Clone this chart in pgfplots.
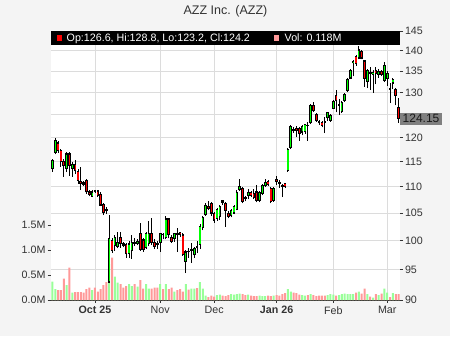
\documentclass[border=0pt]{standalone}
\usepackage{pgfplots}
\usepackage{pgfplotstable}
\pgfplotsset{compat=1.18}
\usepackage{fontspec}
\setmainfont{Liberation Sans}
\definecolor{bg}{HTML}{F4F4F4}
\definecolor{gridc}{HTML}{DCDCDC}
\definecolor{upc}{HTML}{00FF00}
\definecolor{dnc}{HTML}{FF0000}
\definecolor{vup}{HTML}{99FF99}
\definecolor{vdn}{HTML}{FF9999}
\definecolor{txt}{HTML}{333333}
\definecolor{boxc}{HTML}{808080}

\pgfplotstableread{
i O H L C V
0 113.6 115.6 113.0 115.3 0.37
1 116.9 120.0 116.5 119.4 0.22
2 118.9 119.3 116.8 117.3 0.20
3 117.3 117.6 114.0 115.0 0.20
4 115.0 115.5 112.0 114.2 0.43
5 113.6 117.0 112.9 116.6 0.30
6 116.6 117.0 112.2 114.2 0.65
7 113.6 115.0 112.0 114.4 0.15
8 114.4 115.3 112.5 113.2 0.16
9 113.0 113.6 110.6 111.3 0.16
10 111.0 114.0 109.4 110.6 0.16
11 110.8 111.2 110.2 110.5 0.15
12 111.3 111.5 108.6 109.0 0.22
13 109.0 109.3 108.2 108.6 0.25
14 108.2 109.3 108.0 109.0 0.20
15 109.2 109.4 108.8 109.0 0.25
16 109.2 109.4 108.0 108.3 0.17
17 108.6 109.0 106.3 106.5 0.22
18 106.6 106.8 104.6 105.1 0.30
19 105.6 106.2 104.8 105.4 0.36
20 92.9 104.6 92.7 100.3 0.72
21 100.0 100.4 97.8 98.3 0.85
22 99.1 101.0 98.2 100.5 0.47
23 99.0 101.5 98.6 99.7 0.35
24 100.6 101.5 98.7 99.4 0.32
25 99.4 99.8 98.8 99.2 0.25
26 99.3 99.5 97.0 97.7 0.28
27 97.8 99.9 97.0 99.4 0.32
28 98.2 101.0 96.8 99.7 0.28
29 99.7 100.5 99.0 99.5 0.32
30 99.5 100.3 99.2 99.9 0.27
31 101.3 103.2 98.2 98.4 0.40
32 100.1 100.4 98.0 98.4 0.23
33 98.7 101.5 98.5 101.3 0.32
34 99.5 103.5 99.0 101.3 0.23
35 101.3 104.0 99.3 99.7 0.23
36 99.6 100.2 98.5 99.0 0.25
37 99.5 100.0 98.5 99.3 0.25
38 99.7 101.4 98.0 101.2 0.32
39 101.1 101.4 100.2 101.0 0.22
40 100.6 104.5 100.2 103.9 0.32
41 103.9 104.0 100.4 101.0 0.22
42 100.5 101.0 99.6 99.9 0.25
43 100.4 101.4 99.8 101.2 0.17
44 101.3 102.2 98.0 101.0 0.20
45 101.4 101.6 100.6 101.0 0.22
46 101.0 101.3 97.3 97.6 0.17
47 96.4 98.3 94.4 98.0 0.32
48 98.1 98.6 97.0 98.0 0.21
49 98.3 99.6 96.1 98.4 0.23
50 97.5 98.9 97.0 98.6 0.23
51 99.0 100.0 97.8 98.8 0.24
52 99.3 103.0 98.5 102.6 0.36
53 102.3 104.5 101.8 104.2 0.23
54 104.7 106.8 104.5 106.4 0.09
55 106.3 107.3 105.5 105.9 0.06
56 106.8 107.0 104.5 105.0 0.09
57 105.0 105.2 103.2 103.7 0.07
58 104.0 106.0 103.6 105.7 0.10
59 104.4 106.5 103.8 106.2 0.11
60 107.3 107.5 106.5 107.0 0.09
61 106.8 107.0 102.5 105.5 0.08
62 105.0 105.3 104.0 104.4 0.10
63 104.6 105.8 104.2 105.4 0.12
64 105.0 106.5 104.8 106.2 0.11
65 105.7 109.3 105.5 108.9 0.12
66 109.5 111.5 109.2 110.0 0.13
67 109.7 110.0 106.8 107.2 0.12
68 108.0 108.2 107.2 107.7 0.10
69 108.3 109.6 107.6 108.9 0.11
70 108.9 109.2 108.0 108.3 0.09
71 108.7 109.5 107.6 108.0 0.08
72 109.0 110.3 107.0 107.4 0.08
73 107.4 109.2 107.0 108.9 0.09
74 108.7 110.6 108.4 110.3 0.08
75 110.3 111.5 110.0 110.9 0.08
76 111.0 111.3 110.2 110.5 0.09
77 109.6 110.0 106.8 107.1 0.08
78 107.4 109.9 107.1 109.6 0.09
79 111.4 112.2 110.3 111.0 0.10
80 110.9 111.3 109.8 110.6 0.09
81 110.3 110.6 108.0 110.1 0.12
82 110.6 110.8 109.8 110.0 0.14
83 113.3 117.8 113.0 117.5 0.22
84 117.9 122.7 117.6 122.4 0.17
85 121.8 122.2 121.0 121.5 0.15
86 122.0 122.6 120.2 121.6 0.14
87 122.0 122.4 119.4 120.8 0.11
88 121.2 122.8 120.5 122.5 0.10
89 121.3 123.0 120.8 122.8 0.09
90 122.7 123.4 119.4 122.6 0.10
91 123.2 127.4 122.9 127.1 0.12
92 127.1 127.8 125.6 125.9 0.10
93 125.0 125.4 123.4 123.7 0.08
94 123.4 123.8 122.8 123.2 0.09
95 123.3 123.6 122.2 122.6 0.09
96 123.5 124.5 121.0 123.3 0.09
97 124.3 125.6 123.6 125.4 0.10
98 123.7 125.2 123.4 124.9 0.12
99 126.4 128.3 126.2 128.0 0.11
100 129.3 130.6 125.5 128.2 0.09
101 127.1 128.6 124.9 127.3 0.10
102 125.7 128.0 125.4 127.7 0.12
103 128.2 129.8 127.9 129.5 0.13
104 130.4 133.3 130.1 133.0 0.12
105 133.4 135.6 133.2 135.3 0.12
106 137.0 137.8 133.8 137.4 0.12
107 138.5 139.0 136.3 136.8 0.15
108 138.2 141.2 137.9 140.2 0.17
109 139.8 140.3 137.9 138.2 0.13
110 137.5 137.8 131.4 133.3 0.23
111 132.6 135.6 131.0 135.3 0.12
112 134.6 136.0 130.6 134.4 0.07
113 134.2 135.4 130.0 134.8 0.05
114 135.3 136.1 131.9 134.5 0.12
115 134.3 135.5 133.5 135.0 0.10
116 134.9 135.2 133.8 134.3 0.13
117 132.8 137.2 132.4 136.5 0.23
118 133.3 135.0 131.5 134.5 0.15
119 131.0 132.2 127.6 130.8 0.06
120 132.2 133.5 130.8 133.0 0.14
121 130.8 131.0 127.1 129.3 0.12
122 126.6 128.8 123.2 124.2 0.118
}\data

\begin{document}
\begin{tikzpicture}[x=1bp,y=1bp]
\useasboundingbox (0,0) rectangle (450,336);
\fill[bg] (0,0) rectangle (450,336);
\pgfplotsset{base/.style={at={(51bp,36bp)}, anchor=south west, scale only axis,
  width=349bp, height=269bp, xmin=-0.5, xmax=122.5}}

% grid / price ticks axis
\begin{axis}[base, ymode=log, ymin=90, ymax=145,
  axis background/.style={fill=white},
  axis x line*=bottom, axis y line*=right,
  y axis line style={draw=none}, x axis line style={draw=txt, line width=0.8bp},
  xtick={15,38,57,79,99,118},
  xticklabels={\textbf{Oct 25},Nov,Dec,\textbf{Jan 26},Feb,Mar},
  ytick={90,95,100,105,110,115,120,125,130,135,140,145},
  yticklabels={90,95,100,105,110,115,120,{},130,135,140,145},
  grid=major, grid style={gridc, line width=0.9bp},
  tick align=outside, major tick length=3bp,
  tick style={txt, line width=0.8bp},
  ticklabel style={font=\fontsize{10.7bp}{12bp}\selectfont, text=txt},
  yticklabel style={xshift=-1.5bp}]
\end{axis}

% volume axis
\begin{axis}[base, ymin=0, ymax=5.38,
  axis x line=none, axis y line*=left, y axis line style={draw=none},
  ytick={0,0.5,1,1.5}, yticklabels={0.0M,0.5M,1.0M,1.5M},
  tick align=outside, major tick length=3.5bp,
  tick style={txt, line width=0.8bp},
  ticklabel style={font=\fontsize{10.7bp}{12bp}\selectfont, text=txt},
  yticklabel style={xshift=1.5bp}]
\addplot[ybar, bar width=2bp, bar shift=0pt, fill=vup, draw=none]
  table[x=i, y expr={ifthenelse(\thisrow{C}>\thisrow{O},\thisrow{V},0)}] {\data};
\addplot[ybar, bar width=2bp, bar shift=0pt, fill=vdn, draw=none]
  table[x=i, y expr={ifthenelse(\thisrow{C}>\thisrow{O},0,\thisrow{V})}] {\data};
\end{axis}

% candles
\begin{axis}[base, ymode=log, ymin=90, ymax=145, hide axis]
\addplot[draw=none, mark=none, error bars/.cd, y dir=plus, y explicit,
  error mark=none, error bar style={draw=black, line width=0.9bp}]
  table[x=i, y=L, y error expr={\thisrow{H}-\thisrow{L}}] {\data};
\addplot[draw=none, mark=none, error bars/.cd, y dir=plus, y explicit,
  error mark=none, error bar style={draw=black, line width=2.6bp, shorten <=-0.5bp, shorten >=-0.5bp}]
  table[x=i, y expr={min(\thisrow{O},\thisrow{C})}, y error expr={abs(\thisrow{C}-\thisrow{O})}] {\data};
\addplot[draw=none, mark=none, error bars/.cd, y dir=plus, y explicit,
  error mark=none, error bar style={draw=upc, line width=1.2bp, shorten <=0.6bp, shorten >=0.6bp}]
  table[x=i, y expr={ifthenelse(\thisrow{C}-\thisrow{O}>0.35,\thisrow{O},1)},
         y error expr={ifthenelse(\thisrow{C}-\thisrow{O}>0.35,\thisrow{C}-\thisrow{O},0.1)}] {\data};
\addplot[draw=none, mark=none, error bars/.cd, y dir=plus, y explicit,
  error mark=none, error bar style={draw=dnc, line width=1.2bp, shorten <=0.6bp, shorten >=0.6bp}]
  table[x=i, y expr={ifthenelse(\thisrow{O}-\thisrow{C}>0.35,\thisrow{C},1)},
         y error expr={ifthenelse(\thisrow{O}-\thisrow{C}>0.35,\thisrow{O}-\thisrow{C},0.1)}] {\data};
\coordinate (lastp) at (axis cs:122.5,124.15);
\end{axis}

\node[fill=boxc, anchor=west, inner xsep=2.5bp, inner ysep=0bp, minimum height=12bp,
  font=\fontsize{12bp}{12bp}\selectfont, text=black!90] at (lastp) {124.15};

% legend bar and title
\fill[black] (51,291) rectangle (400,305);
\fill[dnc] (57,295.5) rectangle (62,300.7);
\node[anchor=base west, inner sep=0, text=white, font=\fontsize{10.7bp}{12bp}\selectfont] at (66.5,294.3) {Op:126.6, Hi:128.8, Lo:123.2, Cl:124.2};
\fill[vdn] (274,295.5) rectangle (279,300.7);
\node[anchor=base west, inner sep=0, text=white, font=\fontsize{10.7bp}{12bp}\selectfont] at (284.5,294.3) {Vol: 0.118M};
\node[anchor=base, inner sep=0, text=txt, font=\fontsize{12.5bp}{14bp}\selectfont] at (225.5,322) {AZZ Inc. (AZZ)};
\end{tikzpicture}
\end{document}
